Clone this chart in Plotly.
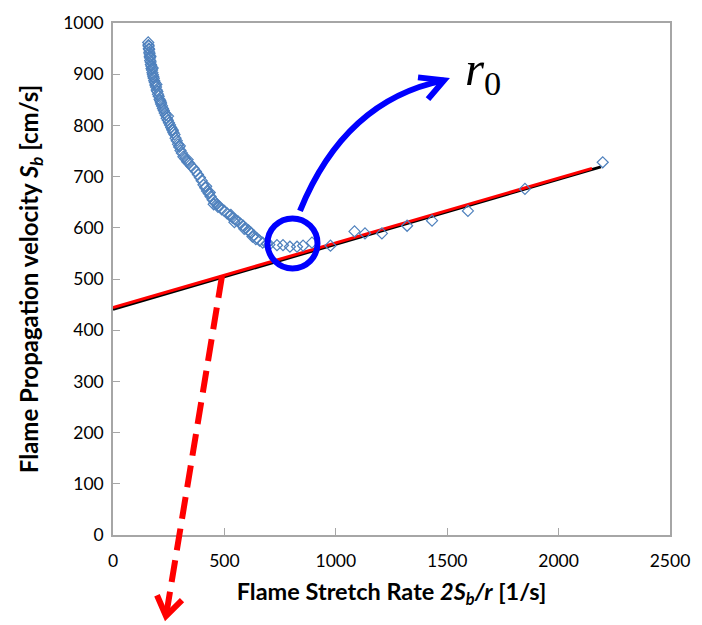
import plotly.graph_objects as go

# ---- data ----
stretch_rate = [158, 159, 160, 161, 162, 163, 164, 165, 166, 167, 169, 170, 172, 173, 175, 177, 179, 181,
                183, 185, 188, 190, 193, 196, 199, 202, 205, 209, 212, 216, 220, 224, 228, 232, 237, 241,
                246, 251, 256, 261, 266, 271, 276, 281, 286, 292, 297, 303, 309, 316, 324, 333, 342, 352,
                362, 372, 381, 390, 398, 406, 414, 422, 430, 438, 447, 456, 466, 477, 488, 500, 512, 524,
                536, 548, 560, 572, 584, 596, 608, 620, 632, 645, 658, 672, 690,
                168, 178, 195, 215, 247, 268, 300, 335, 418, 434, 452, 471, 529, 545, 589, 613, 626, 641, 702,
                736, 763, 794, 826, 853, 893, 976, 1084, 1131, 1207, 1320, 1432, 1593, 1849, 2198]
velocity = [962, 957, 955, 950, 948, 943, 940, 935, 932, 927, 924, 919, 916, 911, 908, 903, 899, 895,
            892, 887, 884, 879, 875, 869, 866, 861, 857, 851, 848, 842, 838, 833, 829, 824, 820, 814,
            810, 805, 801, 796, 792, 786, 782, 775, 770, 763, 758, 751, 746, 739, 735, 729, 726, 720,
            716, 710, 704, 698, 692, 684, 678, 672, 667, 661, 655, 650, 646, 642, 636, 633, 628, 624,
            620, 616, 613, 608, 604, 599, 595, 590, 585, 580, 575, 571, 569,
            935, 912, 880, 845, 818, 790, 760, 733, 681, 669, 646, 641, 625, 611, 598, 592, 583, 578, 567,
            566, 566, 563, 563, 565, 571, 565, 593, 589, 589, 604, 614, 633, 676, 728]

fit_black_x = [0, 2190]
fit_black_y = [441, 719]
fit_red_x = [0, 2150]
fit_red_y = [444, 716]

x_ticks = [0, 500, 1000, 1500, 2000, 2500]
y_ticks = [0, 100, 200, 300, 400, 500, 600, 700, 800, 900, 1000]

# ---- layout geometry ----
W, H = 702, 625
L, R, T, B = 113, 32, 17, 90
PW, PH = W - L - R, H - T - B


def px(x, y):
    """pixel position -> paper coords"""
    return (x - L) / PW, (H - B - y) / PH


fig = go.Figure()
fig.add_trace(go.Scatter(x=fit_black_x, y=fit_black_y, mode="lines",
                         line=dict(color="black", width=3), hoverinfo="skip"))
fig.add_trace(go.Scatter(x=fit_red_x, y=fit_red_y, mode="lines",
                         line=dict(color="#ff0000", width=3), hoverinfo="skip"))
fig.add_trace(go.Scatter(x=stretch_rate, y=velocity, mode="markers",
                         marker=dict(symbol="diamond-open", size=8.5,
                                     color="#4f81bd", line=dict(width=1.2, color="#4f81bd"))))

shapes = []
# blue circle
cx, cy = px(292.5, 240)
shapes.append(dict(type="circle", xref="paper", yref="paper", xsizemode="pixel", ysizemode="pixel",
                   xanchor=cx, yanchor=cy, x0=-25, x1=25, y0=-25, y1=25,
                   line=dict(color="#0000ff", width=6)))
# blue curved arrow
s = px(300, 207); c = px(345, 95); e = px(444, 75)
shapes.append(dict(type="path", xref="paper", yref="paper",
                   path=f"M {s[0]},{s[1]} Q {c[0]},{c[1]} {e[0]},{e[1]}",
                   line=dict(color="#0000ff", width=6)))
a1 = px(418, 72); a2 = px(428, 94)
shapes.append(dict(type="path", xref="paper", yref="paper",
                   path=f"M {a1[0]},{a1[1]} L {e[0]},{e[1]} L {a2[0]},{a2[1]}",
                   line=dict(color="#0000ff", width=6)))
# red dashed arrow
rs = px(222, 273); re_ = px(166, 617)
shapes.append(dict(type="line", xref="paper", yref="paper",
                   x0=rs[0], y0=rs[1], x1=re_[0], y1=re_[1],
                   line=dict(color="#ff0000", width=6, dash="22px,10px")))
r1 = px(157, 596); r2 = px(182, 601)
shapes.append(dict(type="path", xref="paper", yref="paper",
                   path=f"M {r1[0]},{r1[1]} L {re_[0]},{re_[1]} L {r2[0]},{r2[1]}",
                   line=dict(color="#ff0000", width=6)))

tx, ty = px(463, 66)
annotations = [dict(xref="paper", yref="paper", x=tx, y=ty, xanchor="left", yanchor="middle",
                    text="<i>r</i><sub>0</sub>", showarrow=False,
                    font=dict(family="Liberation Serif", size=49, color="black"))]

FONT = "Lato, Open Sans, sans-serif"
axis_common = dict(showline=True, linecolor="#a6a6a6", linewidth=1.5, mirror=True,
                   ticks="inside", ticklen=7, tickcolor="#a6a6a6", showgrid=False, zeroline=False,
                   tickfont=dict(family=FONT, size=17.5, color="black"))

fig.update_layout(
    width=W, height=H, margin=dict(l=L, r=R, t=T, b=B),
    paper_bgcolor="white", plot_bgcolor="white", showlegend=False,
    shapes=shapes, annotations=annotations,
    xaxis=dict(range=[0, 2500], tickvals=x_ticks, ticktext=[str(v) for v in x_ticks],
               ticklabelstandoff=9,
               title=dict(text="<b>Flame Stretch Rate <i>2S<sub>b</sub>/r</i> [1/s]</b>",
                          font=dict(family=FONT, size=23.5, color="black"),
                          standoff=14),
               **axis_common),
    yaxis=dict(range=[0, 1000], tickvals=y_ticks, ticktext=[str(v) for v in y_ticks],
               ticklabelstandoff=4,
               title=dict(text="<b>Flame Propagation velocity <i>S<sub>b</sub></i> [cm/s]</b>",
                          font=dict(family=FONT, size=24, color="black"),
                          standoff=18),
               **axis_common),
)

fig.write_html("out.html")
